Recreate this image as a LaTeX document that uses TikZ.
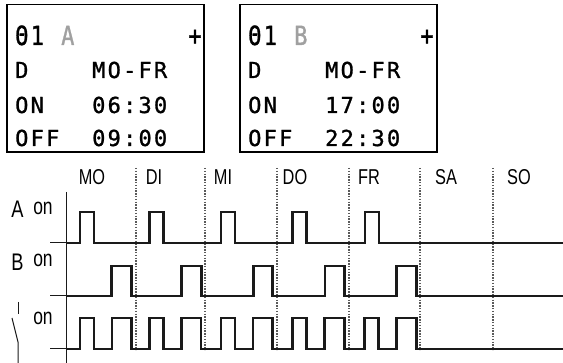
\documentclass[tikz,border=0pt]{standalone}
\usepackage{fontspec}
\usepackage{graphicx}
\setmainfont{Liberation Sans}[FakeStretch=0.76]
\newfontfamily\lcd{DejaVu Sans Mono}[LetterSpace=10,FakeBold=1.2]
\definecolor{lcdgray}{HTML}{A0A0A0}
\definecolor{sig}{HTML}{1A1A1A}
\definecolor{dotgray}{HTML}{5A5A5A}
\begin{document}
\begin{tikzpicture}[x=1pt,y=-1pt,
  lcdtxt/.style={anchor=base west,inner sep=0pt,font=\lcd\fontsize{22}{22}\selectfont},
  lcdplus/.style={anchor=base,inner sep=0pt,font=\lcd\fontsize{22}{22}\selectfont},
  lcdbox/.style={draw=black,line width=1.2pt},
  lbl/.style={anchor=base,inner sep=0pt,font=\fontsize{21.5}{21.5}\selectfont},
  rowlbl/.style={anchor=base,inner sep=0pt,font=\fontsize{24}{24}\selectfont},
  onlbl/.style={anchor=base,inner sep=0pt,font=\fontsize{23}{23}\selectfont},
  signal/.style={draw=sig,line width=2.7pt,line join=miter},
  thinline/.style={draw=sig,line width=1pt},
  dayline/.style={draw=dotgray,line width=1.2pt,dash pattern=on 1.4pt off 1.4pt}]
\useasboundingbox (0,0) rectangle (563,363);

% ---- LCD box A ----
\draw[lcdbox] (7,4.5) rectangle (204,152);
\node[lcdtxt] (a1) at (15,45) {\scalebox{1}[1.2]{Θ1}};
\node[lcdtxt,text=lcdgray] (aA) at (61,45) {\scalebox{1}[1.2]{A}};
\node[lcdplus] (aP) at (195,45) {\scalebox{1}[1.2]{+}};
\node[lcdtxt] (aD) at (15,78) {D};
\node[lcdtxt] (aMF) at (92,78) {MO-FR};
\node[lcdtxt] (aON) at (15,113) {ON};
\node[lcdtxt] (aONt) at (92,113) {06:30};
\node[lcdtxt] (aOFF) at (15,146) {OFF};
\node[lcdtxt] (aOFFt) at (92,146) {09:00};

% ---- LCD box B ----
\draw[lcdbox] (240,4.5) rectangle (437,152);
\node[lcdtxt] (b1) at (248,45) {\scalebox{1}[1.2]{Θ1}};
\node[lcdtxt,text=lcdgray] (bB) at (294,45) {\scalebox{1}[1.2]{B}};
\node[lcdplus] (bP) at (427,45) {\scalebox{1}[1.2]{+}};
\node[lcdtxt] (bD) at (248,78) {D};
\node[lcdtxt] (bMF) at (325,78) {MO-FR};
\node[lcdtxt] (bON) at (248,113) {ON};
\node[lcdtxt] (bONt) at (325,113) {17:00};
\node[lcdtxt] (bOFF) at (248,146) {OFF};
\node[lcdtxt] (bOFFt) at (325,146) {22:30};

% ---- day labels ----
\node[lbl] (dMO) at (92,185) {MO};
\node[lbl] (dDI) at (154,185) {DI};
\node[lbl] (dMI) at (223,185) {MI};
\node[lbl] (dDO) at (295,185) {DO};
\node[lbl] (dFR) at (369,185) {FR};
\node[lbl] (dSA) at (446,185) {SA};
\node[lbl] (dSO) at (519,185) {SO};

% ---- day separators ----
\foreach \x in {136,205,277,349,420,493}
  \draw[dayline] (\x,168) -- (\x,350);

% ---- row labels ----
\node[rowlbl] (lA) at (17.5,218) {A};
\node[onlbl] (lAon) at (43,215) {on};
\node[rowlbl] (lB) at (17.5,271) {B};
\node[onlbl] (lBon) at (43,267) {on};
\node[onlbl] (lSon) at (43,325) {on};

% switch symbol
\draw[thinline] (18.5,302) -- (18.5,314);
\draw[thinline] (12,318) -- (18,342) -- (18,363);

% axis
\draw[thinline] (66,192) -- (66,363);

% thin baselines left of axis
\draw[thinline] (50,243) -- (66,243);
\draw[thinline] (50,296) -- (66,296);
\draw[thinline] (50,349) -- (66,349);

% ---- signals ----
\draw[signal] (66,243)
  foreach \s in {64.5,134,205.5,277.2,349.4} { -- (\s+15.5,243) -- ++(0,-31) -- ++(14,0) -- ++(0,31) }
  -- (563,243);
\draw[signal] (66,296)
  foreach \s in {64.3,134.2,205.8,277.5,349.2} { -- (\s+47.5,296) -- ++(0,-30) -- ++(19.5,0) -- ++(0,30) }
  -- (563,296);
\draw[signal] (66,349)
  foreach \s in {64.4,134.1,205.6,277.3,349.3} { -- (\s+15.5,349) -- ++(0,-31) -- ++(14,0) -- ++(0,31)
     -- (\s+47.5,349) -- ++(0,-31) -- ++(19.5,0) -- ++(0,31) }
  -- (563,349);
\end{tikzpicture}
\end{document}
